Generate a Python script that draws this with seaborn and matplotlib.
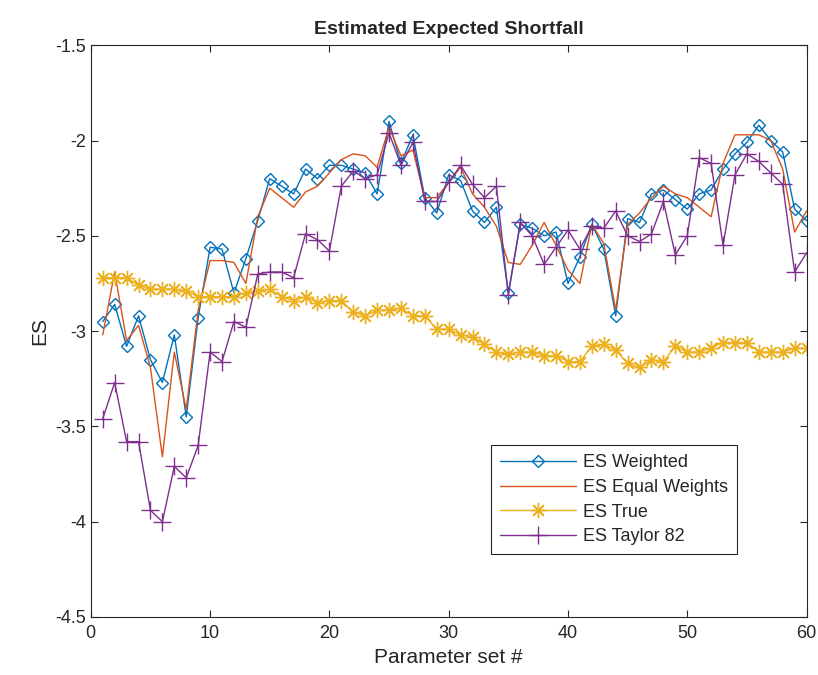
import numpy as np
import pandas as pd
import matplotlib
matplotlib.use("Agg")
import matplotlib.pyplot as plt
import seaborn as sns

param_set = list(range(1, 61))

es_weighted = [-2.95, -2.86, -3.08, -2.92, -3.15, -3.27, -3.02, -3.45, -2.93, -2.56,
               -2.57, -2.80, -2.62, -2.42, -2.20, -2.24, -2.28, -2.15, -2.20, -2.13,
               -2.13, -2.15, -2.17, -2.28, -1.90, -2.12, -1.97, -2.30, -2.38, -2.18,
               -2.21, -2.37, -2.43, -2.35, -2.80, -2.44, -2.46, -2.50, -2.48, -2.75,
               -2.61, -2.44, -2.57, -2.92, -2.41, -2.43, -2.28, -2.26, -2.31, -2.36,
               -2.28, -2.26, -2.15, -2.07, -2.01, -1.92, -2.00, -2.06, -2.36, -2.42]

es_equal = [-3.02, -2.69, -3.05, -2.97, -3.19, -3.66, -3.11, -3.41, -2.89, -2.63,
            -2.63, -2.64, -2.75, -2.40, -2.25, -2.30, -2.35, -2.27, -2.24, -2.17,
            -2.10, -2.07, -2.08, -2.14, -1.93, -2.08, -2.05, -2.30, -2.30, -2.22,
            -2.14, -2.28, -2.35, -2.45, -2.64, -2.65, -2.55, -2.43, -2.55, -2.68,
            -2.75, -2.44, -2.54, -2.89, -2.44, -2.38, -2.30, -2.24, -2.28, -2.30,
            -2.35, -2.40, -2.12, -1.97, -1.97, -1.97, -2.00, -2.15, -2.48, -2.37]

es_true = [-2.72, -2.72, -2.72, -2.76, -2.78, -2.78, -2.78, -2.79, -2.82, -2.82,
           -2.82, -2.82, -2.80, -2.79, -2.78, -2.82, -2.84, -2.82, -2.85, -2.84,
           -2.84, -2.90, -2.92, -2.89, -2.89, -2.88, -2.92, -2.92, -2.99, -2.99,
           -3.02, -3.03, -3.07, -3.11, -3.12, -3.11, -3.11, -3.13, -3.13, -3.16,
           -3.16, -3.08, -3.07, -3.10, -3.17, -3.19, -3.15, -3.16, -3.08, -3.11,
           -3.11, -3.09, -3.06, -3.06, -3.06, -3.11, -3.11, -3.11, -3.09, -3.09]

es_taylor = [-3.46, -3.27, -3.58, -3.58, -3.94, -4.00, -3.71, -3.77, -3.60, -3.11,
             -3.16, -2.95, -2.98, -2.70, -2.69, -2.69, -2.72, -2.49, -2.52, -2.58,
             -2.24, -2.16, -2.20, -2.18, -1.96, -2.13, -2.01, -2.32, -2.32, -2.22,
             -2.13, -2.23, -2.30, -2.24, -2.81, -2.43, -2.50, -2.65, -2.56, -2.47,
             -2.57, -2.45, -2.46, -2.37, -2.50, -2.53, -2.49, -2.32, -2.60, -2.50,
             -2.09, -2.12, -2.55, -2.18, -2.07, -2.11, -2.17, -2.23, -2.69, -2.59]

df = pd.DataFrame({
    "Parameter": param_set,
    "ES Weighted": es_weighted,
    "ES Equal Weights": es_equal,
    "ES True": es_true,
    "ES Taylor 82": es_taylor,
})

sns.set_style("white")
plt.rcParams["font.family"] = ["Liberation Sans", "DejaVu Sans"]

fig = plt.figure(figsize=(8.18, 6.75), dpi=100)
ax = fig.add_axes([0.111, 0.086, 0.875, 0.847])

# MATLAB default colour order
styles = [
    ("ES Weighted", "#0072BD", dict(marker="D", markersize=6.5, markerfacecolor="none",
                                    markeredgecolor="#0072BD", markeredgewidth=1.0)),
    ("ES Equal Weights", "#D95319", dict()),
    ("ES True", "#EDB120", dict(marker=(8, 2, 0), markersize=11,
                                markeredgecolor="#EDB120", markeredgewidth=1.0)),
    ("ES Taylor 82", "#7E2F8E", dict(marker="+", markersize=13,
                                     markeredgecolor="#7E2F8E", markeredgewidth=1.0)),
]

for name, col, kw in styles:
    sns.lineplot(data=df, x="Parameter", y=name, color=col, linewidth=1.0,
                 label=name, ax=ax, **kw)

ax.set_xlim(0, 60)
ax.set_ylim(-4.5, -1.5)
ax.set_xticks(np.arange(0, 61, 10))
ax.set_yticks(np.arange(-4.5, -1.4, 0.5))
ax.set_yticklabels(["-4.5", "-4", "-3.5", "-3", "-2.5", "-2", "-1.5"])
ax.tick_params(direction="in", length=5, width=0.8, labelsize=13, colors="#262626",
               top=True, right=True, bottom=True, left=True)
ax.tick_params(axis="x", pad=6)
for s in ax.spines.values():
    s.set_visible(True)
    s.set_color("#262626")
    s.set_linewidth(0.8)

ax.set_title("Estimated Expected Shortfall", fontsize=14, fontweight="bold", pad=8)
ax.set_xlabel("Parameter set #", fontsize=15, color="#262626")
ax.set_ylabel("ES", fontsize=15, color="#262626")

leg = ax.legend(loc="lower left", bbox_to_anchor=(0.547, 0.094), fontsize=13,
                handlelength=4.2, frameon=True, fancybox=False, framealpha=1,
                borderpad=0.5, labelspacing=0.42, handletextpad=0.4)
leg.get_frame().set_edgecolor("#262626")
leg.get_frame().set_linewidth(0.8)

fig.savefig("out.png", dpi=100)
